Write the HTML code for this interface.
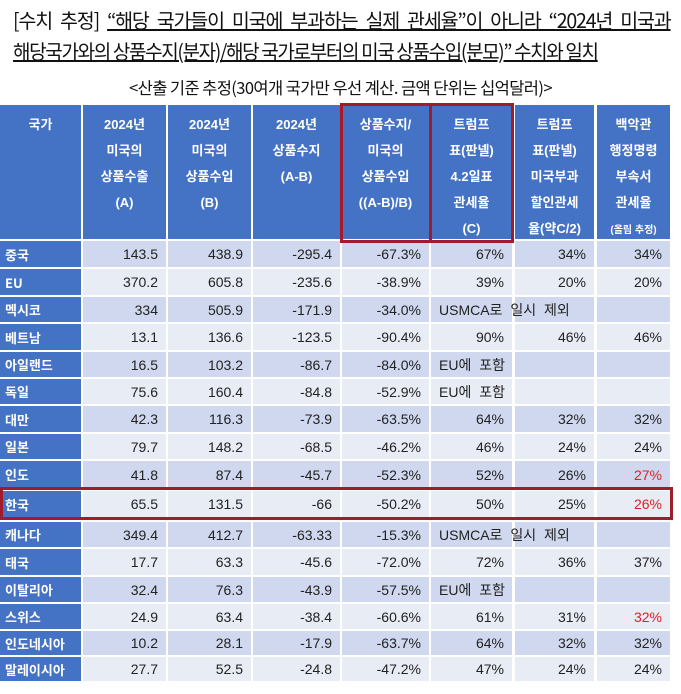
<!DOCTYPE html>
<html><head><meta charset="utf-8"><style>
body{margin:0;width:681px;height:694px;background:#fff;position:relative;overflow:hidden;font-family:"Liberation Sans Narrow","Liberation Sans","Noto Sans CJK KR",sans-serif;}
.t{position:absolute;white-space:nowrap;color:#111;}
.c{position:absolute;box-sizing:border-box;font-size:14px;line-height:1;display:flex;align-items:center;justify-content:flex-end;padding-right:8px;color:#222;}
.h{position:absolute;background:#4472c4;color:#fff;font-weight:bold;font-size:13px;text-align:center;line-height:26px;padding-top:7px;box-sizing:border-box;font-family:"Liberation Sans","Noto Sans CJK KR",sans-serif;}
.n{background:#4472c4;color:#fff;font-weight:bold;justify-content:flex-start;padding-left:5px;font-family:"Noto Sans CJK KR",sans-serif;font-size:13px;}
.red{color:#e02020;}
.box{position:absolute;border:3px solid #a01c2a;box-sizing:border-box;}
.ov{position:absolute;white-space:nowrap;font-family:"Liberation Sans","Noto Sans CJK KR",sans-serif;font-size:14px;word-spacing:4px;color:#222;line-height:1;}
</style></head><body>
<div class="t" style="left:13px;top:5px;font-size:20px;font-family:'Noto Sans CJK KR',sans-serif;letter-spacing:-1.2px;word-spacing:5px;transform:scaleX(0.975);transform-origin:left top;">[수치 추정] <u>“해당 국가들이 미국에 부과하는 실제 관세율”이 아니라 “2024년 미국과</u></div>
<div class="t" style="left:13px;top:36px;font-size:20px;font-family:'Noto Sans CJK KR',sans-serif;letter-spacing:-1.4px;transform:scaleX(0.95);transform-origin:left top;"><u>해당국가와의 상품수지(분자)/해당 국가로부터의 미국 상품수입(분모)” 수치와 일치</u></div>
<div class="t" style="left:0;width:681px;text-align:center;top:75px;font-size:16.5px;font-family:'Noto Sans CJK KR',sans-serif;letter-spacing:-0.6px;">&lt;산출 기준 추정(30여개 국가만 우선 계산. 금액 단위는 십억달러)&gt;</div>
<div id="tb"></div>
<script>
var cols=[[0,81],[83,166],[168,251],[253,340],[342,429],[431,512],[515,594],[597,670]];
var hd=["국가","2024년<br>미국의<br>상품수출<br>(A)","2024년<br>미국의<br>상품수입<br>(B)","2024년<br>상품수지<br>(A-B)","상품수지/<br>미국의<br>상품수입<br>((A-B)/B)","트럼프<br>표(판넬)<br>4.2일표<br>관세율<br>(C)","트럼프<br>표(판넬)<br>미국부과<br>할인관세<br>율(약C/2)","백악관<br>행정명령<br>부속서<br>관세율<br><span style='font-size:10px'>(올림 추정)</span>"];
var h='',ov='';
for(var i=0;i<8;i++)h+='<div class="h" style="left:'+cols[i][0]+'px;width:'+(cols[i][1]-cols[i][0])+'px;top:105px;height:134px">'+hd[i]+'</div>';
var rows=[["중국","143.5","438.9","-295.4","-67.3%","67%","34%","34%"],["EU","370.2","605.8","-235.6","-38.9%","39%","20%","20%"],["멕시코","334","505.9","-171.9","-34.0%","U","",""],["베트남","13.1","136.6","-123.5","-90.4%","90%","46%","46%"],["아일랜드","16.5","103.2","-86.7","-84.0%","E","",""],["독일","75.6","160.4","-84.8","-52.9%","E","",""],["대만","42.3","116.3","-73.9","-63.5%","64%","32%","32%"],["일본","79.7","148.2","-68.5","-46.2%","46%","24%","24%"],["인도","41.8","87.4","-45.7","-52.3%","52%","26%","R27%"],["한국","65.5","131.5","-66","-50.2%","50%","25%","R26%"],["캐나다","349.4","412.7","-63.33","-15.3%","U","",""],["태국","17.7","63.3","-45.6","-72.0%","72%","36%","37%"],["이탈리아","32.4","76.3","-43.9","-57.5%","E","",""],["스위스","24.9","63.4","-38.4","-60.6%","61%","31%","R32%"],["인도네시아","10.2","28.1","-17.9","-63.7%","64%","32%","32%"],["말레이시아","27.7","52.5","-24.8","-47.2%","47%","24%","24%"]];
var tops=[241,269,297,324,352,379,406,434,461,490,522,549,577,604,631,657,683];
for(var r=0;r<16;r++){var y=tops[r],hh=tops[r+1]-tops[r]-2;if(r==9){y=491;hh=26;}
var bg=(r%2==0)?'#cfd8ee':'#e8ecf5';
for(var i=0;i<8;i++){var v=rows[r][i],st='left:'+cols[i][0]+'px;width:'+(cols[i][1]-cols[i][0])+'px;top:'+y+'px;height:'+hh+'px;';
if(i==0){h+='<div class="c n" style="'+st+'">'+v+'</div>';continue;}
var cls='c',txt=v;
if(v=='U'||v=='E'){txt='';ov+='<div class="ov" style="left:439px;top:'+(y+hh/2-7)+'px">'+(v=='U'?'USMCA로 일시 제외':'EU에 포함')+'</div>';}
if(v.charAt(0)=='R'){txt=v.slice(1);cls+=' red';}
h+='<div class="'+cls+'" style="'+st+'background:'+bg+';">'+txt+'</div>';}}
h+=ov;
h+='<div class="box" style="left:340px;top:103px;width:92px;height:140px"></div><div class="box" style="left:429px;top:103px;width:85px;height:140px"></div><div class="box" style="left:0;top:487px;width:673px;height:33px"></div>';
document.getElementById('tb').innerHTML=h;
</script>
</body></html>
